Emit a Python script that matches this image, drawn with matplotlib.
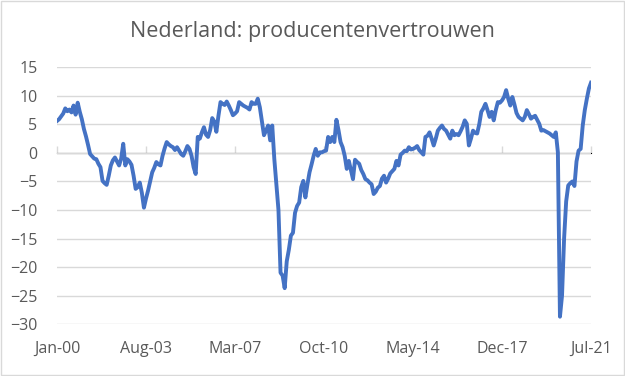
import numpy as np
import matplotlib.pyplot as plt
from matplotlib.patches import Rectangle

plt.rcParams['font.family'] = ['Open Sans', 'DejaVu Sans']

# producentenvertrouwen, monthly from Jan-2000 to Jul-2021
y2000 = [5.6, 5.9, 6.4, 6.9, 7.8, 7.3, 7.6, 7.1, 8.3, 6.7, 8.8, 7.2]
y2001 = [5.9, 4.2, 2.9, 1.4, -0.2, -0.6, -1.0, -1.1, -1.9, -2.5, -4.9, -5.3]
y2002 = [-5.6, -4.0, -2.2, -1.3, -0.8, -1.5, -2.2, -1.0, 1.6, -2.2, -1.1, -1.5]
y2003 = [-2.1, -4.0, -6.3, -6.0, -5.2, -7.0, -9.6, -8.0, -6.6, -5.0, -3.4, -2.6]
y2004 = [-1.6, -2.0, -2.2, -0.5, 0.8, 1.9, 1.5, 1.2, 1.0, 0.5, 1.0, 0.4]
y2005 = [-0.2, -0.5, 0.3, 1.2, 0.7, -0.5, -2.5, -3.7, 2.8, 2.5, 3.6, 4.5]
y2006 = [3.2, 2.8, 4.0, 6.1, 5.5, 3.7, 6.5, 8.9, 8.6, 8.4, 9.0, 8.3]
y2007 = [7.5, 6.6, 6.9, 7.3, 8.9, 8.6, 8.3, 8.1, 7.9, 7.6, 8.9, 8.6]
y2008 = [8.6, 9.5, 8.0, 5.5, 3.1, 3.9, 4.8, 2.2, 4.8, -1.1, -5.5, -10.0]
y2009 = [-21.0, -21.5, -23.7, -19.0, -17.0, -14.5, -14.0, -10.5, -9.3, -8.7, -6.0, -4.9]
y2010 = [-7.8, -5.5, -3.4, -2.0, -0.5, 0.7, -0.5, 0.1, 0.1, 0.3, 0.4, 2.8]
y2011 = [1.9, 2.8, 1.9, 5.8, 4.0, 1.9, 1.0, -0.5, -2.8, -1.4, -3.0, -4.6]
y2012 = [-1.2, -1.6, -1.9, -3.0, -3.7, -4.6, -4.8, -5.2, -5.5, -7.2, -6.8, -6.1]
y2013 = [-5.8, -4.5, -4.0, -5.2, -4.5, -3.6, -3.2, -2.8, -1.4, -2.2, -0.3, 0.0]
y2014 = [0.4, 0.3, 1.0, 0.6, 0.7, 0.9, 1.2, 0.5, 0.1, -0.3, 2.8, 3.0]
y2015 = [3.6, 2.5, 1.3, 2.5, 3.9, 4.4, 4.8, 4.2, 3.9, 3.2, 2.5, 3.9]
y2016 = [3.1, 3.3, 3.1, 3.8, 4.6, 5.7, 5.1, 1.3, 2.5, 3.9, 3.5, 3.4]
y2017 = [5.0, 7.2, 7.8, 8.6, 7.5, 6.3, 7.2, 5.7, 7.5, 8.9, 8.8, 9.2]
y2018 = [9.8, 11.0, 9.5, 8.3, 9.8, 8.5, 7.0, 6.3, 6.0, 5.7, 6.3, 7.5]
y2019 = [6.8, 6.0, 6.3, 6.5, 5.8, 5.1, 3.9, 4.0, 3.8, 3.6, 3.4, 3.1]
y2020 = [2.8, 3.6, 0.1, -28.7, -25.0, -15.0, -8.5, -5.7, -5.3, -5.0, -5.8, -1.5]
y2021 = [0.4, 0.7, 4.8, 7.5, 9.5, 11.3, 12.3]

values = (y2000 + y2001 + y2002 + y2003 + y2004 + y2005 + y2006 + y2007
          + y2008 + y2009 + y2010 + y2011 + y2012 + y2013 + y2014 + y2015
          + y2016 + y2017 + y2018 + y2019 + y2020 + y2021)
months = np.arange(len(values))

tick_pos = [0, 43, 86, 129, 172, 215, 258]
tick_labels = ['Jan-00', 'Aug-03', 'Mar-07', 'Oct-10', 'May-14', 'Dec-17', 'Jul-21']

grey = '#595959'
grid = '#d9d9d9'

fig = plt.figure(figsize=(6.25, 3.76), dpi=100)
ax = fig.add_axes([0.0912, 0.138, 0.8544, 0.683])

ax.plot(months, values, color='#4472C4', linewidth=2.8, solid_joinstyle='round')

ax.set_xlim(0, 258)
ax.set_ylim(-30, 15)
ax.set_yticks(np.arange(-30, 16, 5))
ax.yaxis.grid(True, color=grid, linewidth=1)
ax.set_axisbelow(True)
for s in ax.spines.values():
    s.set_visible(False)
ax.tick_params(axis='y', length=0, pad=14, labelsize=11.5, labelcolor=grey)
ax.set_xticks(tick_pos)
ax.set_xticklabels(tick_labels)
ax.tick_params(axis='x', length=0, pad=12, labelsize=11.5, labelcolor=grey)

# horizontal axis line at zero with tick marks
sec = ax.secondary_xaxis(30 / 45)
sec.set_xticks(tick_pos)
sec.set_xticklabels([])
sec.tick_params(length=5, color=grid, width=1)
sec.spines['bottom'].set_color(grid)
sec.spines['bottom'].set_linewidth(1)

fig.suptitle('Nederland: producentenvertrouwen', y=0.945, fontsize=15.5, color=grey)

fig.patches.append(Rectangle((0.001, 0.002), 0.997, 0.995, transform=fig.transFigure,
                             fill=False, edgecolor=grid, linewidth=1))

fig.savefig('out.png', dpi=100)
